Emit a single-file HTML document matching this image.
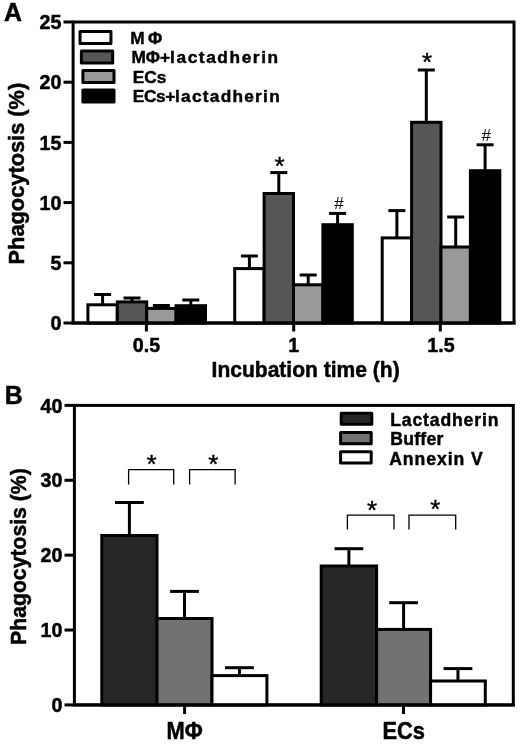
<!DOCTYPE html>
<html><head><meta charset="utf-8"><title>Phagocytosis charts</title>
<style>
html,body{margin:0;padding:0;background:#fff;}
body{width:520px;height:745px;overflow:hidden;font-family:"Liberation Sans",sans-serif;}
svg{display:block}
svg text{font-family:"Liberation Sans",sans-serif;fill:#000;}
</style></head><body>
<svg width="520" height="745" viewBox="0 0 520 745">
<defs><filter id="soft" x="0" y="0" width="520" height="745" filterUnits="userSpaceOnUse"><feGaussianBlur stdDeviation="0.45"/></filter></defs>
<rect width="520" height="745" fill="#fff"/>
<g filter="url(#soft)">
<rect x="73.1" y="22" width="440.9" height="301" fill="none" stroke="#000" stroke-width="3.0"/>
<line x1="63.5" y1="323.0" x2="73.1" y2="323.0" stroke="#000" stroke-width="3.0" stroke-linecap="butt"/>
<text transform="translate(61.5,330.2) scale(0.96,1)" font-size="20.5" font-weight="bold" text-anchor="end" stroke="#000" stroke-width="0.5" stroke-linejoin="round">0</text>
<line x1="63.5" y1="262.8" x2="73.1" y2="262.8" stroke="#000" stroke-width="3.0" stroke-linecap="butt"/>
<text transform="translate(61.5,270.0) scale(0.96,1)" font-size="20.5" font-weight="bold" text-anchor="end" stroke="#000" stroke-width="0.5" stroke-linejoin="round">5</text>
<line x1="63.5" y1="202.6" x2="73.1" y2="202.6" stroke="#000" stroke-width="3.0" stroke-linecap="butt"/>
<text transform="translate(61.5,209.79999999999998) scale(0.96,1)" font-size="20.5" font-weight="bold" text-anchor="end" stroke="#000" stroke-width="0.5" stroke-linejoin="round">10</text>
<line x1="63.5" y1="142.4" x2="73.1" y2="142.4" stroke="#000" stroke-width="3.0" stroke-linecap="butt"/>
<text transform="translate(61.5,149.6) scale(0.96,1)" font-size="20.5" font-weight="bold" text-anchor="end" stroke="#000" stroke-width="0.5" stroke-linejoin="round">15</text>
<line x1="63.5" y1="82.19999999999999" x2="73.1" y2="82.19999999999999" stroke="#000" stroke-width="3.0" stroke-linecap="butt"/>
<text transform="translate(61.5,89.39999999999999) scale(0.96,1)" font-size="20.5" font-weight="bold" text-anchor="end" stroke="#000" stroke-width="0.5" stroke-linejoin="round">20</text>
<line x1="63.5" y1="22.0" x2="73.1" y2="22.0" stroke="#000" stroke-width="3.0" stroke-linecap="butt"/>
<text transform="translate(61.5,29.2) scale(0.96,1)" font-size="20.5" font-weight="bold" text-anchor="end" stroke="#000" stroke-width="0.5" stroke-linejoin="round">25</text>
<line x1="102.6" y1="294.5" x2="102.6" y2="304.8" stroke="#000" stroke-width="3.0" stroke-linecap="butt"/>
<line x1="94.1" y1="294.5" x2="111.1" y2="294.5" stroke="#000" stroke-width="3.0" stroke-linecap="butt"/>
<rect x="87.89999999999999" y="304.8" width="29.39999999999999" height="18.19999999999999" fill="#ffffff" stroke="#000" stroke-width="3.0"/>
<line x1="132.0" y1="298" x2="132.0" y2="301.9" stroke="#000" stroke-width="3.0" stroke-linecap="butt"/>
<line x1="123.5" y1="298" x2="140.5" y2="298" stroke="#000" stroke-width="3.0" stroke-linecap="butt"/>
<rect x="117.29999999999998" y="301.9" width="29.400000000000006" height="21.100000000000023" fill="#565656" stroke="#000" stroke-width="3.0"/>
<line x1="161.39999999999998" y1="305.5" x2="161.39999999999998" y2="308.4" stroke="#000" stroke-width="3.0" stroke-linecap="butt"/>
<line x1="152.89999999999998" y1="305.5" x2="169.89999999999998" y2="305.5" stroke="#000" stroke-width="3.0" stroke-linecap="butt"/>
<rect x="146.7" y="308.4" width="29.400000000000006" height="14.600000000000023" fill="#999999" stroke="#000" stroke-width="3.0"/>
<line x1="190.8" y1="300" x2="190.8" y2="305.7" stroke="#000" stroke-width="3.0" stroke-linecap="butt"/>
<line x1="182.3" y1="300" x2="199.3" y2="300" stroke="#000" stroke-width="3.0" stroke-linecap="butt"/>
<rect x="176.1" y="305.7" width="29.400000000000006" height="17.30000000000001" fill="#000000" stroke="#000" stroke-width="3.0"/>
<line x1="146.4" y1="323" x2="146.4" y2="331.5" stroke="#000" stroke-width="3.0" stroke-linecap="butt"/>
<line x1="249.39999999999998" y1="256" x2="249.39999999999998" y2="268.6" stroke="#000" stroke-width="3.0" stroke-linecap="butt"/>
<line x1="240.89999999999998" y1="256" x2="257.9" y2="256" stroke="#000" stroke-width="3.0" stroke-linecap="butt"/>
<rect x="234.7" y="268.6" width="29.399999999999977" height="54.39999999999998" fill="#ffffff" stroke="#000" stroke-width="3.0"/>
<line x1="278.8" y1="172.6" x2="278.8" y2="193.5" stroke="#000" stroke-width="3.0" stroke-linecap="butt"/>
<line x1="270.3" y1="172.6" x2="287.3" y2="172.6" stroke="#000" stroke-width="3.0" stroke-linecap="butt"/>
<rect x="264.1" y="193.5" width="29.399999999999977" height="129.5" fill="#565656" stroke="#000" stroke-width="3.0"/>
<line x1="308.2" y1="275" x2="308.2" y2="284.8" stroke="#000" stroke-width="3.0" stroke-linecap="butt"/>
<line x1="299.7" y1="275" x2="316.7" y2="275" stroke="#000" stroke-width="3.0" stroke-linecap="butt"/>
<rect x="293.5" y="284.8" width="29.399999999999977" height="38.19999999999999" fill="#999999" stroke="#000" stroke-width="3.0"/>
<line x1="337.59999999999997" y1="213.4" x2="337.59999999999997" y2="224.7" stroke="#000" stroke-width="3.0" stroke-linecap="butt"/>
<line x1="329.09999999999997" y1="213.4" x2="346.09999999999997" y2="213.4" stroke="#000" stroke-width="3.0" stroke-linecap="butt"/>
<rect x="322.9" y="224.7" width="29.399999999999977" height="98.30000000000001" fill="#000000" stroke="#000" stroke-width="3.0"/>
<line x1="293.7" y1="323" x2="293.7" y2="331.5" stroke="#000" stroke-width="3.0" stroke-linecap="butt"/>
<line x1="396.9" y1="210.6" x2="396.9" y2="237.9" stroke="#000" stroke-width="3.0" stroke-linecap="butt"/>
<line x1="388.4" y1="210.6" x2="405.4" y2="210.6" stroke="#000" stroke-width="3.0" stroke-linecap="butt"/>
<rect x="382.2" y="237.9" width="29.399999999999977" height="85.1" fill="#ffffff" stroke="#000" stroke-width="3.0"/>
<line x1="426.3" y1="70" x2="426.3" y2="122.3" stroke="#000" stroke-width="3.0" stroke-linecap="butt"/>
<line x1="417.8" y1="70" x2="434.8" y2="70" stroke="#000" stroke-width="3.0" stroke-linecap="butt"/>
<rect x="411.6" y="122.3" width="29.399999999999977" height="200.7" fill="#565656" stroke="#000" stroke-width="3.0"/>
<line x1="455.7" y1="217" x2="455.7" y2="247" stroke="#000" stroke-width="3.0" stroke-linecap="butt"/>
<line x1="447.2" y1="217" x2="464.2" y2="217" stroke="#000" stroke-width="3.0" stroke-linecap="butt"/>
<rect x="441.0" y="247" width="29.399999999999977" height="76" fill="#999999" stroke="#000" stroke-width="3.0"/>
<line x1="485.09999999999997" y1="144.8" x2="485.09999999999997" y2="170.7" stroke="#000" stroke-width="3.0" stroke-linecap="butt"/>
<line x1="476.59999999999997" y1="144.8" x2="493.59999999999997" y2="144.8" stroke="#000" stroke-width="3.0" stroke-linecap="butt"/>
<rect x="470.4" y="170.7" width="29.399999999999977" height="152.3" fill="#000000" stroke="#000" stroke-width="3.0"/>
<line x1="440.3" y1="323" x2="440.3" y2="331.5" stroke="#000" stroke-width="3.0" stroke-linecap="butt"/>
<line x1="71.6" y1="323" x2="515.5" y2="323" stroke="#000" stroke-width="3.0" stroke-linecap="butt"/>
<text transform="translate(146.5,351.7) scale(0.96,1)" font-size="20.5" font-weight="bold" text-anchor="middle" stroke="#000" stroke-width="0.5" stroke-linejoin="round">0.5</text>
<text transform="translate(293.7,351.7) scale(0.96,1)" font-size="20.5" font-weight="bold" text-anchor="middle" stroke="#000" stroke-width="0.5" stroke-linejoin="round">1</text>
<text transform="translate(441,351.7) scale(0.96,1)" font-size="20.5" font-weight="bold" text-anchor="middle" stroke="#000" stroke-width="0.5" stroke-linejoin="round">1.5</text>
<text transform="translate(305.6,377.3) scale(0.923,1)" font-size="22.8" font-weight="bold" text-anchor="middle" stroke="#000" stroke-width="0.5" stroke-linejoin="round">Incubation time (h)</text>
<text transform="translate(24,173.6) rotate(-90)" font-size="21.8" font-weight="bold" text-anchor="middle" stroke="#000" stroke-width="0.5" stroke-linejoin="round">Phagocytosis (%)</text>
<text transform="translate(4.0,20.5) scale(0.95,1)" font-size="26.2" font-weight="bold" text-anchor="start" stroke="#000" stroke-width="0.5" stroke-linejoin="round">A</text>
<rect x="80.05" y="31.55" width="30.9" height="11.9" fill="#ffffff" stroke="#000" stroke-width="3.0" stroke-linejoin="round"/>
<text transform="translate(130.3,44.2)" font-size="17.3" font-weight="bold" text-anchor="start" letter-spacing="3.2" stroke="#000" stroke-width="0.45" stroke-linejoin="round">MΦ</text>
<rect x="81.4" y="51.05" width="31.3" height="11.9" fill="#565656" stroke="#000" stroke-width="3.0" stroke-linejoin="round"/>
<text transform="translate(131.4,63.45)" font-size="17.3" font-weight="bold" text-anchor="start" stroke="#000" stroke-width="0.45" stroke-linejoin="round"><tspan letter-spacing="0">MΦ+</tspan><tspan letter-spacing="1.58">lactadherin</tspan></text>
<rect x="82.9" y="70.55" width="31.1" height="11.9" fill="#999999" stroke="#000" stroke-width="3.0" stroke-linejoin="round"/>
<text transform="translate(132.8,82.7)" font-size="17.3" font-weight="bold" text-anchor="start" stroke="#000" stroke-width="0.45" stroke-linejoin="round">ECs</text>
<rect x="82.9" y="90.05" width="31.1" height="11.9" fill="#000000" stroke="#000" stroke-width="3.0" stroke-linejoin="round"/>
<text transform="translate(132.7,101.95)" font-size="17.3" font-weight="bold" text-anchor="start" stroke="#000" stroke-width="0.45" stroke-linejoin="round"><tspan letter-spacing="-0.35">ECs+</tspan><tspan letter-spacing="1.25">lactadherin</tspan></text>
<text transform="translate(274.6,175.3)" font-size="26" font-weight="normal" text-anchor="start" stroke="#000" stroke-width="0.4" stroke-linejoin="round">*</text>
<text transform="translate(421.9,71.2)" font-size="26" font-weight="normal" text-anchor="start" stroke="#000" stroke-width="0.4" stroke-linejoin="round">*</text>
<text transform="translate(339,209.3)" font-size="17" font-weight="normal" text-anchor="middle" >#</text>
<text transform="translate(486.2,140.6)" font-size="17" font-weight="normal" text-anchor="middle" >#</text>
<rect x="74.4" y="405.4" width="438.9" height="299.5" fill="none" stroke="#000" stroke-width="3.0"/>
<line x1="64.5" y1="704.9" x2="74.4" y2="704.9" stroke="#000" stroke-width="3.0" stroke-linecap="butt"/>
<text transform="translate(62.5,712.1) scale(0.96,1)" font-size="20.5" font-weight="bold" text-anchor="end" stroke="#000" stroke-width="0.5" stroke-linejoin="round">0</text>
<line x1="64.5" y1="630.025" x2="74.4" y2="630.025" stroke="#000" stroke-width="3.0" stroke-linecap="butt"/>
<text transform="translate(62.5,637.225) scale(0.96,1)" font-size="20.5" font-weight="bold" text-anchor="end" stroke="#000" stroke-width="0.5" stroke-linejoin="round">10</text>
<line x1="64.5" y1="555.15" x2="74.4" y2="555.15" stroke="#000" stroke-width="3.0" stroke-linecap="butt"/>
<text transform="translate(62.5,562.35) scale(0.96,1)" font-size="20.5" font-weight="bold" text-anchor="end" stroke="#000" stroke-width="0.5" stroke-linejoin="round">20</text>
<line x1="64.5" y1="480.275" x2="74.4" y2="480.275" stroke="#000" stroke-width="3.0" stroke-linecap="butt"/>
<text transform="translate(62.5,487.47499999999997) scale(0.96,1)" font-size="20.5" font-weight="bold" text-anchor="end" stroke="#000" stroke-width="0.5" stroke-linejoin="round">30</text>
<line x1="64.5" y1="405.4" x2="74.4" y2="405.4" stroke="#000" stroke-width="3.0" stroke-linecap="butt"/>
<text transform="translate(62.5,412.59999999999997) scale(0.96,1)" font-size="20.5" font-weight="bold" text-anchor="end" stroke="#000" stroke-width="0.5" stroke-linejoin="round">40</text>
<line x1="129.4" y1="502.5" x2="129.4" y2="535.5" stroke="#000" stroke-width="3.0" stroke-linecap="butt"/>
<line x1="115.0" y1="502.5" x2="143.8" y2="502.5" stroke="#000" stroke-width="3.0" stroke-linecap="butt"/>
<rect x="101.8" y="535.5" width="55.2" height="169.39999999999998" fill="#252525" stroke="#000" stroke-width="3.0"/>
<line x1="184.5" y1="591.4" x2="184.5" y2="618.5" stroke="#000" stroke-width="3.0" stroke-linecap="butt"/>
<line x1="170.1" y1="591.4" x2="198.9" y2="591.4" stroke="#000" stroke-width="3.0" stroke-linecap="butt"/>
<rect x="157.0" y="618.5" width="55.0" height="86.39999999999998" fill="#727272" stroke="#000" stroke-width="3.0"/>
<line x1="239.45" y1="667.7" x2="239.45" y2="675.6" stroke="#000" stroke-width="3.0" stroke-linecap="butt"/>
<line x1="225.04999999999998" y1="667.7" x2="253.85" y2="667.7" stroke="#000" stroke-width="3.0" stroke-linecap="butt"/>
<rect x="212.0" y="675.6" width="54.89999999999998" height="29.299999999999955" fill="#ffffff" stroke="#000" stroke-width="3.0"/>
<line x1="184.6" y1="704.9" x2="184.6" y2="714" stroke="#000" stroke-width="3.0" stroke-linecap="butt"/>
<line x1="348.9" y1="548.7" x2="348.9" y2="566.0" stroke="#000" stroke-width="3.0" stroke-linecap="butt"/>
<line x1="334.5" y1="548.7" x2="363.29999999999995" y2="548.7" stroke="#000" stroke-width="3.0" stroke-linecap="butt"/>
<rect x="321.2" y="566.0" width="55.400000000000034" height="138.89999999999998" fill="#252525" stroke="#000" stroke-width="3.0"/>
<line x1="403.6" y1="602.7" x2="403.6" y2="629.4" stroke="#000" stroke-width="3.0" stroke-linecap="butt"/>
<line x1="389.20000000000005" y1="602.7" x2="418.0" y2="602.7" stroke="#000" stroke-width="3.0" stroke-linecap="butt"/>
<rect x="376.6" y="629.4" width="54.0" height="75.5" fill="#727272" stroke="#000" stroke-width="3.0"/>
<line x1="457.95000000000005" y1="668.6" x2="457.95000000000005" y2="681" stroke="#000" stroke-width="3.0" stroke-linecap="butt"/>
<line x1="443.55000000000007" y1="668.6" x2="472.35" y2="668.6" stroke="#000" stroke-width="3.0" stroke-linecap="butt"/>
<rect x="430.6" y="681" width="54.69999999999999" height="23.899999999999977" fill="#ffffff" stroke="#000" stroke-width="3.0"/>
<line x1="403.5" y1="704.9" x2="403.5" y2="714" stroke="#000" stroke-width="3.0" stroke-linecap="butt"/>
<line x1="72.9" y1="704.9" x2="514.8" y2="704.9" stroke="#000" stroke-width="3.0" stroke-linecap="butt"/>
<text transform="translate(184.6,739) scale(0.95,1)" font-size="23" font-weight="bold" text-anchor="middle" stroke="#000" stroke-width="0.5" stroke-linejoin="round">MΦ</text>
<text transform="translate(403.7,739) scale(0.95,1)" font-size="23" font-weight="bold" text-anchor="middle" stroke="#000" stroke-width="0.5" stroke-linejoin="round">ECs</text>
<text transform="translate(26,556.6) rotate(-90)" font-size="21.2" font-weight="bold" text-anchor="middle" stroke="#000" stroke-width="0.5" stroke-linejoin="round">Phagocytosis (%)</text>
<text transform="translate(4.8,403.8) scale(0.95,1)" font-size="26.2" font-weight="bold" text-anchor="start" stroke="#000" stroke-width="0.5" stroke-linejoin="round">B</text>
<rect x="341.2" y="413.25" width="30.6" height="11.1" fill="#262626" stroke="#000" stroke-width="3.0" stroke-linejoin="round"/>
<text transform="translate(390.2,425.9)" font-size="17.6" font-weight="bold" text-anchor="start" letter-spacing="0.85" stroke="#000" stroke-width="0.45" stroke-linejoin="round">Lactadherin</text>
<rect x="340.6" y="432.55" width="30.6" height="11.1" fill="#727272" stroke="#000" stroke-width="3.0" stroke-linejoin="round"/>
<text transform="translate(390.2,445.4)" font-size="17.6" font-weight="bold" text-anchor="start" letter-spacing="0.28" stroke="#000" stroke-width="0.45" stroke-linejoin="round">Buffer</text>
<rect x="340.6" y="451.85" width="30.6" height="11.1" fill="#ffffff" stroke="#000" stroke-width="3.0" stroke-linejoin="round"/>
<text transform="translate(389.2,464.9)" font-size="17.6" font-weight="bold" text-anchor="start" letter-spacing="0.95" stroke="#000" stroke-width="0.45" stroke-linejoin="round">Annexin V</text>
<polyline points="128.6,484.6 128.6,469.6 173.7,469.6 173.7,484.6" fill="none" stroke="#000" stroke-width="1.3"/>
<polyline points="189.6,484.6 189.6,469.6 235.1,469.6 235.1,484.6" fill="none" stroke="#000" stroke-width="1.3"/>
<polyline points="347.4,529.5 347.4,515.2 394,515.2 394,529.5" fill="none" stroke="#000" stroke-width="1.3"/>
<polyline points="409,529.5 409,515.2 455.7,515.2 455.7,529.5" fill="none" stroke="#000" stroke-width="1.3"/>
<text transform="translate(146.6,473.4)" font-size="26" font-weight="normal" text-anchor="start" stroke="#000" stroke-width="0.4" stroke-linejoin="round">*</text>
<text transform="translate(208.3,473.4)" font-size="26" font-weight="normal" text-anchor="start" stroke="#000" stroke-width="0.4" stroke-linejoin="round">*</text>
<text transform="translate(367.0,519.0)" font-size="26" font-weight="normal" text-anchor="start" stroke="#000" stroke-width="0.4" stroke-linejoin="round">*</text>
<text transform="translate(430.2,517.8)" font-size="26" font-weight="normal" text-anchor="start" stroke="#000" stroke-width="0.4" stroke-linejoin="round">*</text>
</g>
</svg>
</body></html>
